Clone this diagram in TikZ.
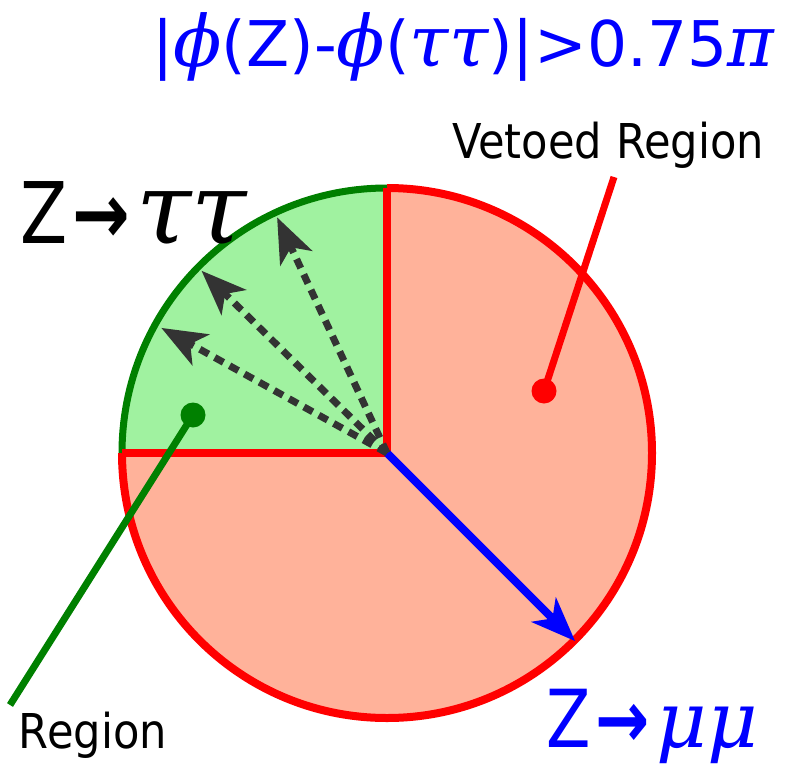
\documentclass[tikz,border=0pt]{standalone}
\usepackage{fontspec}
\setmainfont{DejaVu Sans}
\newfontfamily\tah[FakeStretch=0.81]{DejaVu Sans}
\newfontfamily\tahs[FakeStretch=0.9]{DejaVu Sans}
\newfontfamily\grk{DejaVu Serif}
\usetikzlibrary{arrows.meta,calc}
\definecolor{salmon}{RGB}{255,178,154}
\definecolor{lgreen}{RGB}{160,242,160}
\definecolor{dgreen}{RGB}{0,128,0}
\definecolor{dgray}{RGB}{51,51,51}
\newcommand{\gk}[2]{{\grk\itshape\fontsize{#1bp}{#1bp}\selectfont #2}}
\tikzset{
  redline/.style={draw=red,line width=8bp},
  greenline/.style={draw=dgreen,line width=7bp},
  dasharrow/.style={draw=dgray,line width=7bp,dash pattern=on 10bp off 7bp,
    -{Stealth[length=45bp,width=35bp,inset=12bp]}},
  bluearrow/.style={draw=blue,line width=8bp,
    -{Stealth[length=44bp,width=34bp,inset=12bp]}},
  pointer/.style={line width=7bp},
  dotnode/.style={circle,inner sep=0pt,minimum size=25bp},
  lbl/.style={inner sep=0pt,anchor=base west},
}
\begin{document}
\begin{tikzpicture}[x=1bp,y=1bp]
\useasboundingbox (0,0) rectangle (798,-769);
\coordinate (C) at (387,-453);
% fills
\fill[salmon] (C) circle[radius=265];
\fill[lgreen] (C) -- ++(90:265) arc[start angle=90,end angle=180,radius=265] -- cycle;
% outlines
\draw[redline] (C) ++(180:265) arc[start angle=180,end angle=450,radius=265];
\draw[greenline] (C) ++(90:265) arc[start angle=90,end angle=180,radius=265];
\draw[redline,line join=miter] (C) ++(90:265) coordinate (top) -- (C) -- ++(180:265) coordinate (left);
% arrows
\coordinate (mu) at ($(C)+(-45:266)$);
\draw[bluearrow] (C) -- (mu);
\coordinate (t1) at ($(C)+(115:260)$);
\coordinate (t2) at ($(C)+(135.5:260)$);
\coordinate (t3) at ($(C)+(151:258)$);
\draw[dasharrow] (C) -- (t1);
\draw[dasharrow] (C) -- (t2);
\draw[dasharrow] (C) -- (t3);
% pointers
\node[dotnode,fill=red] (vdot) at (544,-391) {};
\coordinate (vend) at (614,-177);
\draw[pointer,red] (vdot.center) -- (vend);
\node[dotnode,fill=dgreen] (sdot) at (193,-415) {};
\coordinate (send) at (10,-705);
\draw[pointer,dgreen] (sdot.center) -- (send);
% labels
\node[lbl,text=blue,font=\fontsize{63bp}{70bp}\selectfont] (title) at (152,-67)
  {|\gk{71}{ϕ}(Z)-\gk{71}{ϕ}(\gk{71}{ττ})|>0.75\gk{71}{π}};
\node[lbl,font=\tahs\fontsize{48bp}{56bp}\selectfont] (veto) at (452,-158.5) {Vetoed Region};
\node[inner sep=0pt,anchor=base east,font=\tahs\fontsize{48bp}{56bp}\selectfont] (sig) at (167,-748) {Region};
\node[lbl,font=\tah\fontsize{85bp}{95bp}\selectfont] (ztt) at (20,-243)
  {Z\hspace{5bp}{\bfseries →}\hspace{6bp}\gk{100}{ττ}};
\node[lbl,text=blue,font=\tah\fontsize{80bp}{90bp}\selectfont] (zmm) at (546,-747)
  {Z\hspace{5bp}{\bfseries →}\hspace{7bp}\gk{78}{μμ}};
\end{tikzpicture}
\end{document}
